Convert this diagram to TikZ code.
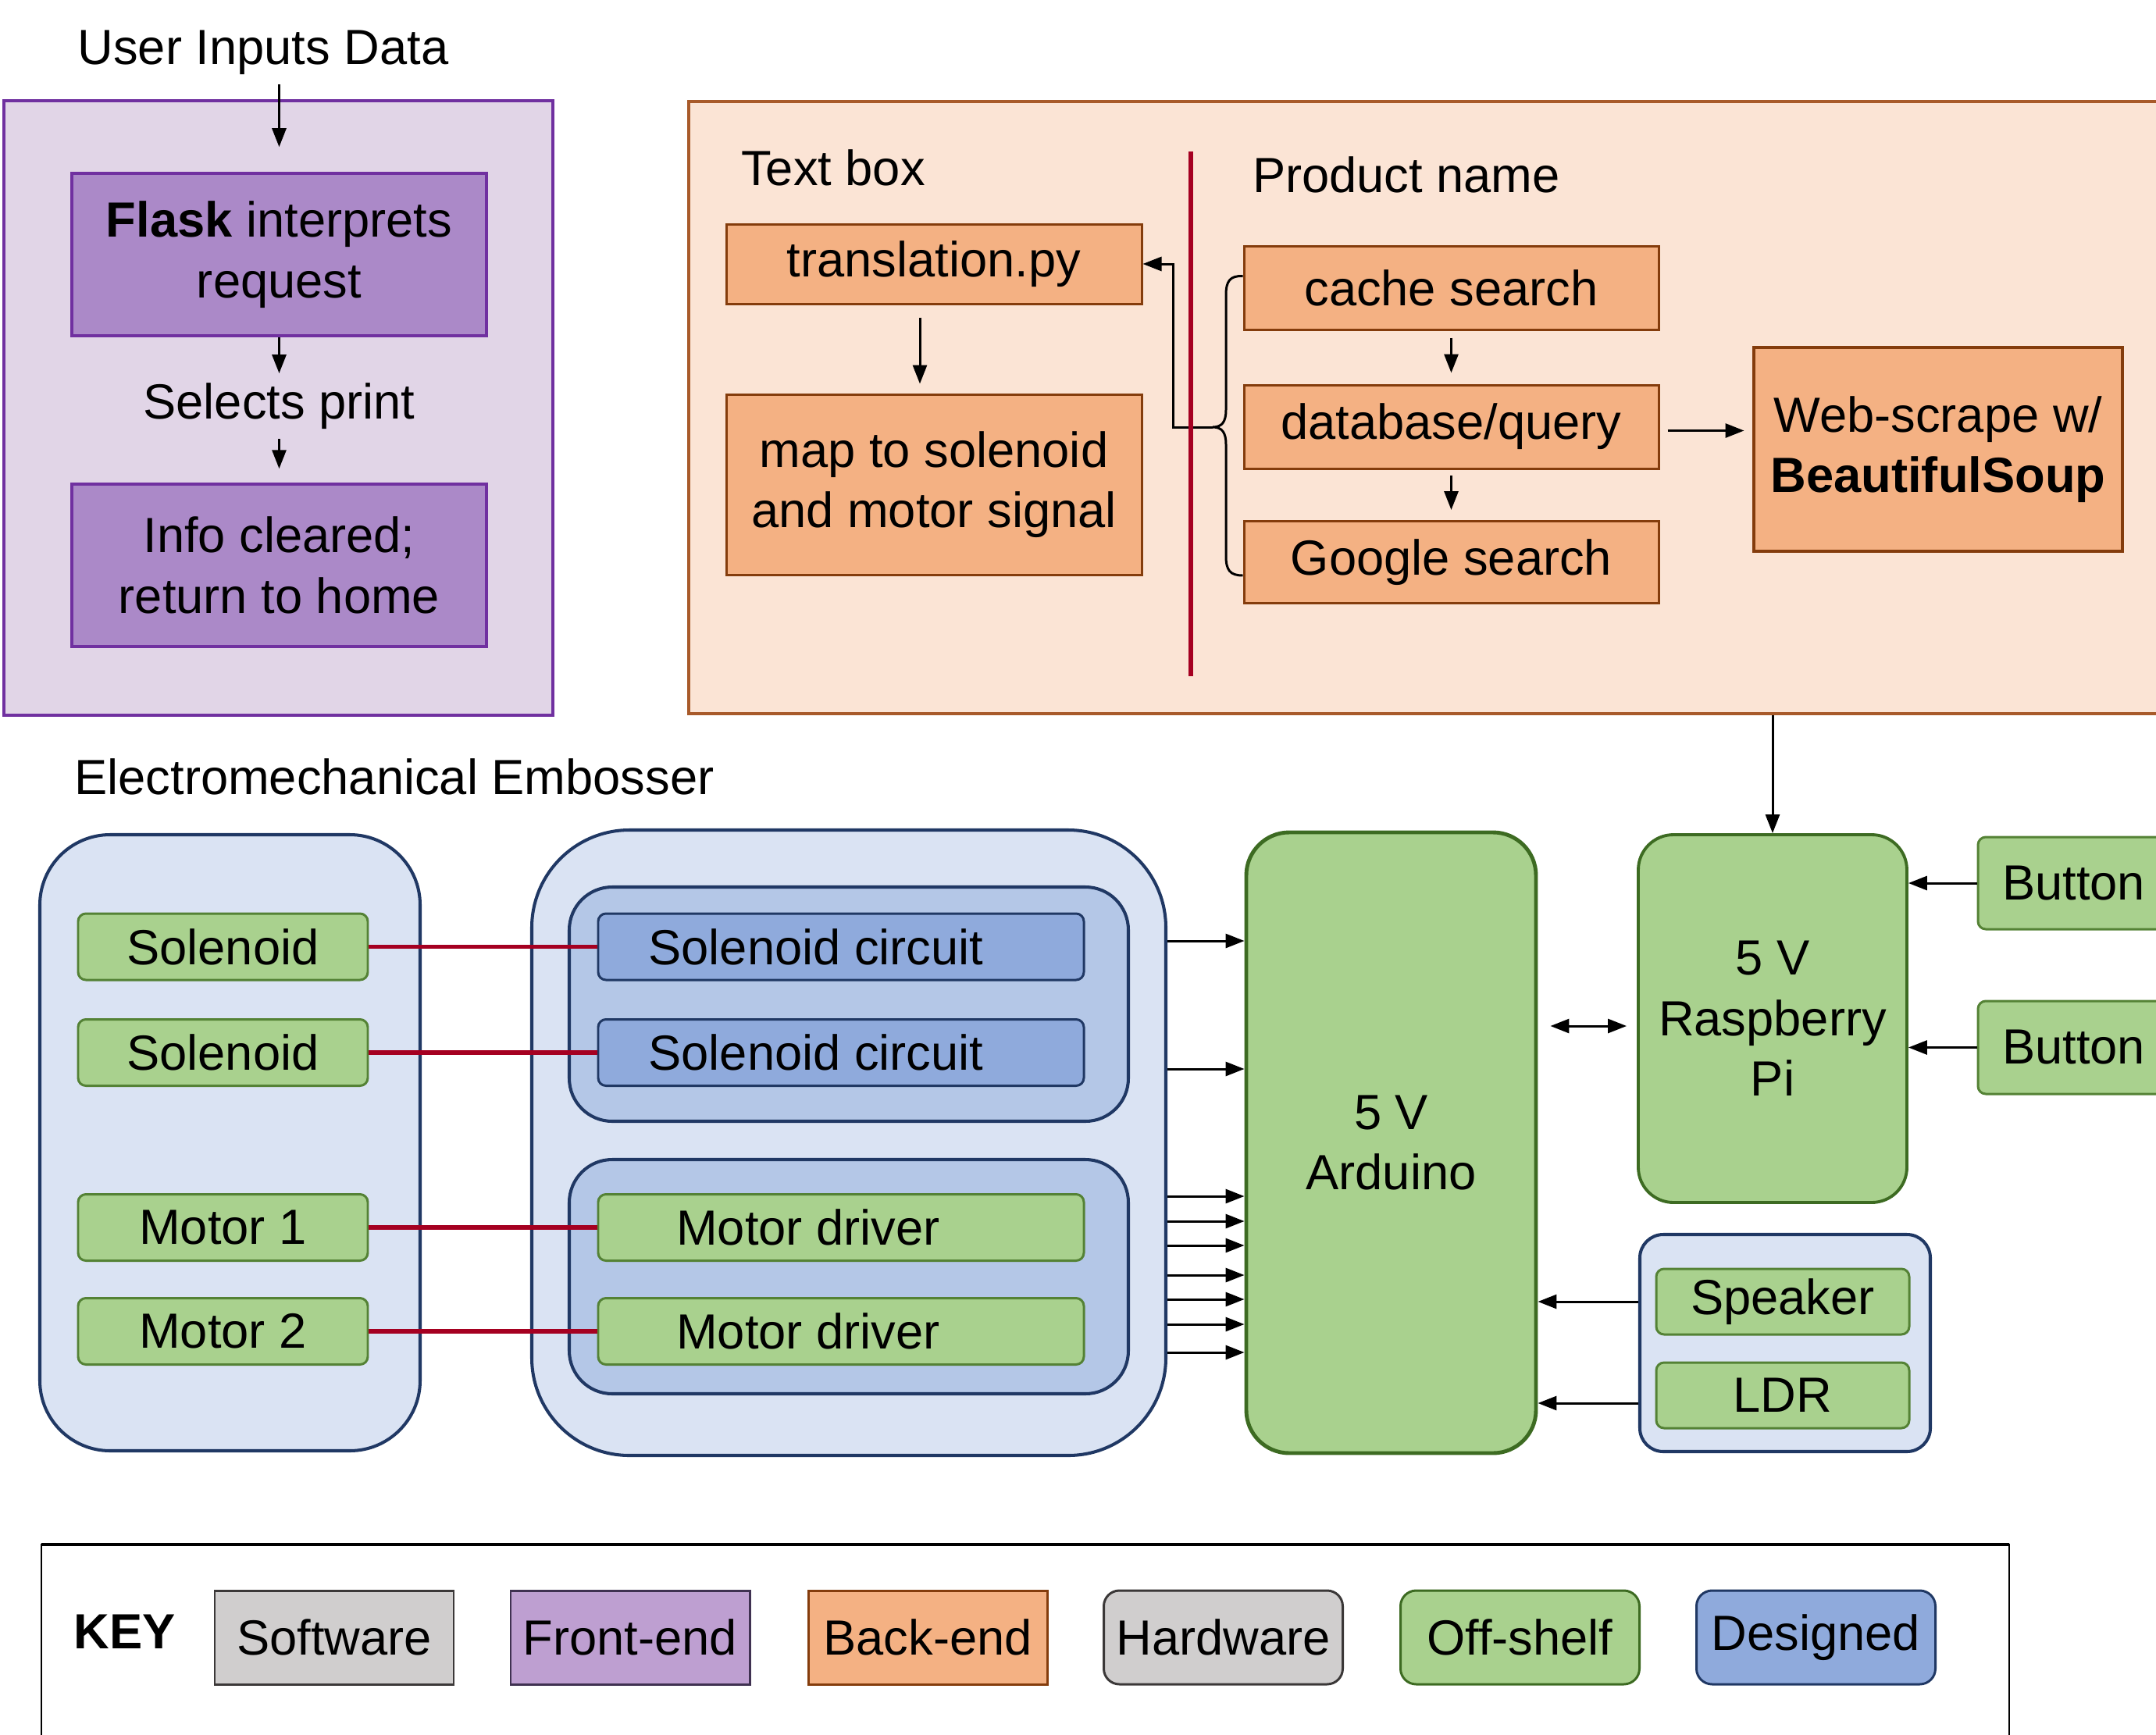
\documentclass[tikz,border=0pt]{standalone}
\usepackage{fontspec}
\setmainfont{Liberation Sans}
\usetikzlibrary{arrows.meta}

\definecolor{frontBg}{HTML}{E1D5E7}
\definecolor{frontFill}{HTML}{AB89C8}
\definecolor{frontLine}{HTML}{7030A0}
\definecolor{backBg}{HTML}{FBE4D5}
\definecolor{backFill}{HTML}{F4B183}
\definecolor{backLine}{HTML}{843C0C}
\definecolor{backEdge}{HTML}{A85A2A}
\definecolor{hwBg}{HTML}{DAE3F3}
\definecolor{hwGroup}{HTML}{B4C7E7}
\definecolor{designFill}{HTML}{8FAADC}
\definecolor{designLine}{HTML}{203864}
\definecolor{shelfFill}{HTML}{A9D18E}
\definecolor{shelfLine}{HTML}{548235}
\definecolor{shelfDark}{HTML}{3D6B22}
\definecolor{softFill}{HTML}{D0CECE}
\definecolor{softLine}{HTML}{3B3838}
\definecolor{keyFront}{HTML}{BE9FD1}
\definecolor{keyFrontLine}{HTML}{3F3151}
\definecolor{wireRed}{HTML}{A50021}

\tikzset{
  dims/.style 2 args={minimum width=#1cm, minimum height=#2cm},
  basebox/.style={draw, line width=0.85pt, inner sep=0pt, align=center},
  frontbox/.style={basebox, fill=frontFill, draw=frontLine, line width=1pt},
  backbox/.style={basebox, fill=backFill, draw=backLine},
  shelfbox/.style={basebox, fill=shelfFill, draw=shelfLine, rounded corners=0.1cm},
  designbox/.style={basebox, fill=designFill, draw=designLine, rounded corners=0.1cm},
  hwgroup/.style={basebox, fill=hwBg, draw=designLine, line width=1.15pt, rounded corners=#1},
  arr/.style={-{Triangle[length=0.24cm,width=0.18cm]}, line width=0.85pt},
  dblarr/.style={{Triangle[length=0.24cm,width=0.18cm]}-{Triangle[length=0.24cm,width=0.18cm]}, line width=0.85pt},
  wire/.style={draw=wireRed, line width=1.5pt},
}

\begin{document}
\begin{tikzpicture}[y=-1cm, every node/.style={font=\fontsize{18}{22}\selectfont}]
\useasboundingbox (0,0) rectangle (27.61,22.22);
\clip (0,0) rectangle (27.61,22.22);

% front-end panel
\node[basebox, fill=frontBg, draw=frontLine, line width=0.9pt, dims={7.03}{7.87}] (front) at (3.565,5.225) {};
\node (user) at (3.37,0.67) {User Inputs Data};
\node[frontbox, dims={5.31}{2.08}] (flask) at (3.575,3.26) {\textbf{Flask} interprets\\request};
\node (sel) at (3.575,5.20) {Selects print};
\node[frontbox, dims={5.31}{2.08}] (info) at (3.575,7.24) {Info cleared;\\return to home};
\draw[arr] (flask.north |- user.south) -- ([yshift=0.32cm]flask.north);
\draw[arr] (flask.south) -- (sel.north);
\draw[arr, shorten >=0.18cm] (sel.south) -- (info.north);

% back-end panel
\node[basebox, fill=backBg, draw=backEdge, line width=0.9pt, dims={19.18}{7.84}] (back) at (18.41,5.22) {};
\node (textlbl) at (10.67,2.15) {Text box};
\node (prodlbl) at (18.01,2.24) {Product name};
\node[backbox, dims={5.32}{1.02}] (trans) at (11.96,3.38) {translation.py};
\node[backbox, dims={5.32}{2.31}] (map) at (11.96,6.205) {map to solenoid\\and motor signal};
\node[backbox, dims={5.31}{1.07}] (cache) at (18.585,3.685) {cache search};
\node[backbox, dims={5.31}{1.07}] (db) at (18.585,5.465) {database/query};
\node[backbox, dims={5.31}{1.05}] (google) at (18.585,7.20) {Google search};
\node[backbox, line width=1.4pt, dims={4.72}{2.61}] (web) at (24.82,5.755) {Web-scrape w/\\\textbf{BeautifulSoup}};

\coordinate (tip) at (15.53,5.47);
\draw[line width=0.85pt] ([yshift=0.15cm]cache.west) .. controls (15.75,3.53) and (15.70,3.60) .. (15.70,3.78)
  -- (15.70,5.25) .. controls (15.70,5.40) and (15.65,5.47) .. (tip)
  .. controls (15.65,5.47) and (15.70,5.54) .. (15.70,5.69)
  -- (15.70,7.12) .. controls (15.70,7.30) and (15.75,7.37) .. ([yshift=-0.17cm]google.west);
\draw[arr] (tip) -- ++(-0.51,0) |- (trans.east);
\draw[wire] (15.25,1.94) -- (15.25,8.66); % divider

\draw[arr, shorten <=0.16cm, shorten >=0.12cm] ([xshift=-0.18cm]trans.south) -- ([xshift=-0.18cm]map.north);
\draw[arr, shorten <=0.09cm, shorten >=0.14cm] (cache) -- (db);
\draw[arr, shorten <=0.07cm, shorten >=0.13cm] (db) -- (google);
\draw[arr, shorten <=0.1cm, shorten >=0.1cm] ([yshift=-0.05cm]db.east) -- ([yshift=-0.05cm]db.east -| web.west);

% embosser
\node[anchor=west] (emblbl) at (0.83,9.95) {Electromechanical Embosser};
\node[hwgroup=0.9cm, dims={4.87}{7.89}] (parts) at (2.945,14.635) {};
\node[shelfbox, dims={3.71}{0.85}] (solA) at (2.855,12.125) {Solenoid};
\node[shelfbox, dims={3.71}{0.85}] (solB) at (2.855,13.48) {Solenoid};
\node[shelfbox, dims={3.71}{0.85}] (motA) at (2.855,15.72) {Motor 1};
\node[shelfbox, dims={3.71}{0.85}] (motB) at (2.855,17.05) {Motor 2};

\node[hwgroup=1.25cm, dims={8.12}{8.01}] (emb) at (10.87,14.635) {};
\node[hwgroup=0.55cm, fill=hwGroup, dims={7.16}{3.00}] (circs) at (10.87,12.86) {};
\node[hwgroup=0.55cm, fill=hwGroup, dims={7.16}{3.00}] (drvs) at (10.87,16.35) {};
\node[designbox, dims={6.22}{0.85}] (circA) at (10.77,12.125) {Solenoid circuit\hspace*{0.64cm}};
\node[designbox, dims={6.22}{0.85}] (circB) at (10.77,13.48) {Solenoid circuit\hspace*{0.64cm}};
\node[shelfbox, dims={6.22}{0.85}] (drvA) at (10.77,15.72) {Motor driver\hspace*{0.84cm}};
\node[shelfbox, dims={6.22}{0.85}] (drvB) at (10.77,17.05) {Motor driver\hspace*{0.84cm}};
\foreach \a/\b in {solA/circA, solB/circB, motA/drvA, motB/drvB}
  \draw[wire] (\a) -- (\b);

% controllers
\node[basebox, fill=shelfFill, draw=shelfDark, line width=1.4pt, rounded corners=0.55cm, dims={3.71}{7.95}] (ard) at (17.815,14.635) {5 V\\Arduino};
\node[basebox, fill=shelfFill, draw=shelfDark, line width=1.1pt, rounded corners=0.45cm, dims={3.44}{4.71}] (pi) at (22.70,13.045) {5 V\\Raspberry\\Pi};
\node[shelfbox, dims={2.45}{1.18}] (btnA) at (26.555,11.31) {Button};
\node[shelfbox, dims={2.45}{1.19}] (btnB) at (26.555,13.415) {Button};
\node[hwgroup=0.3cm, dims={3.72}{2.78}] (io) at (22.86,17.20) {};
\node[shelfbox, dims={3.24}{0.84}] (spk) at (22.83,16.67) {Speaker};
\node[shelfbox, dims={3.24}{0.84}] (ldr) at (22.83,17.87) {LDR};

\foreach \y in {12.05,13.69,15.32,15.64,15.95,16.33,16.64,16.96,17.32}
  \draw[arr] (emb.east |- 0,\y) -- (ard.west |- 0,\y);
\draw[dblarr, shorten <=0.16cm, shorten >=0.13cm] (ard.east |- 0,13.14) -- (pi.west |- 0,13.14);
\draw[arr] (pi.north |- back.south) -- (pi.north);
\draw[arr] (btnA) -- (btnA -| pi.east);
\draw[arr] (btnB) -- (btnB -| pi.east);
\draw[arr] (spk -| io.west) -- (spk -| ard.east);
\draw[arr] ([yshift=-0.1cm]ldr.west -| io.west) -- ([yshift=-0.1cm]ldr.west -| ard.east);

% key
\draw[line width=0.65pt] (0.53,22.6) rectangle (25.73,19.78);
\draw[line width=1.2pt] (0.53,19.78) -- (25.73,19.78);
\node[font=\fontsize{18}{22}\selectfont\bfseries] (keylbl) at (1.60,20.90) {KEY};
\foreach \x/\nm/\fc/\dc/\rc in {4.28/Software/softFill/softLine/0, 8.07/Front-end/keyFront/keyFrontLine/0,
    11.88/Back-end/backFill/backLine/0, 15.665/Hardware/softFill/softLine/0.2,
    19.465/Off-shelf/shelfFill/shelfDark/0.2, 23.255/Designed/designFill/designLine/0.2}
  \node[basebox, fill=\fc, draw=\dc, rounded corners=\rc cm, dims={3.06}{1.2}] (key\nm) at (\x,20.97) {\nm};
\end{tikzpicture}
\end{document}
